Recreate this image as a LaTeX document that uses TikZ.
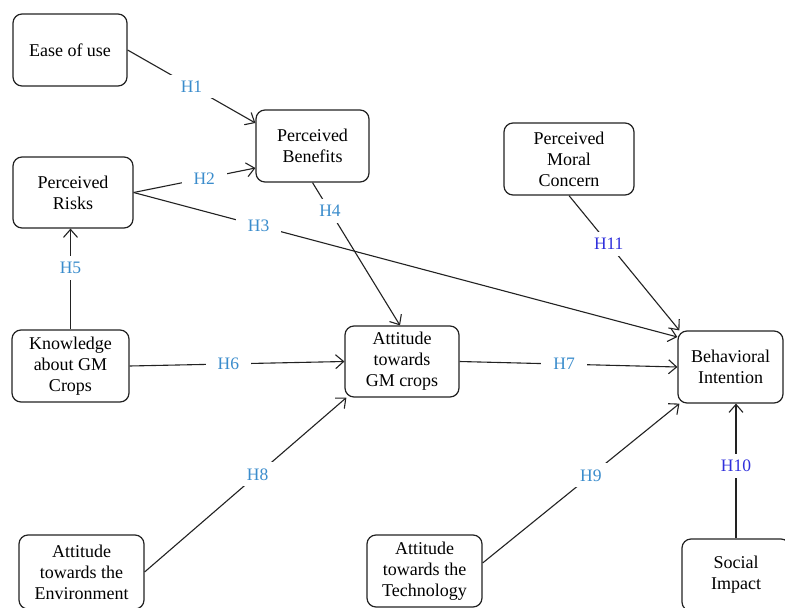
\documentclass[tikz,border=0pt]{standalone}
\usepackage{fontspec}
\setmainfont{Liberation Serif}
\usetikzlibrary{arrows.meta}
\definecolor{hlab}{HTML}{3A8CCC}
\definecolor{hlabb}{HTML}{3030DC}
\definecolor{ln}{HTML}{222222}
\begin{document}
\begin{tikzpicture}[x=1pt,y=-1pt,
  box/.style={draw=ln,line width=1.2pt,rounded corners=9pt,align=center,inner sep=0pt,
    font=\fontsize{18}{21}\selectfont,text=black},
  conn/.style={draw=ln,line width=1.1pt,-{Straight Barb[length=8pt,width=14pt,line width=1.1pt]}},
  hl/.style={fill=white,text=hlab,inner xsep=12pt,inner ysep=6pt,font=\fontsize{17.5}{20}\selectfont},
  hlb/.style={hl,text=hlabb}]
\useasboundingbox (0,0) rectangle (785,608);
\fill[white] (0,0) rectangle (785,608);
% nodes
\node[box,minimum width=114pt,minimum height=72pt] (ease) at (70,50) {Ease of use};
\node[box,minimum width=113pt,minimum height=72pt] (benef) at (312.5,146) {Perceived\\Benefits};
\node[box,minimum width=120pt,minimum height=71pt] (risks) at (73,192.5) {Perceived\\Risks};
\node[box,minimum width=130pt,minimum height=72pt] (moral) at (569,159) {Perceived\\Moral\\Concern};
\node[box,minimum width=117pt,minimum height=72pt] (know) at (70.5,366) {Knowledge\\about GM\\Crops};
\node[box,minimum width=114pt,minimum height=71pt] (attgm) at (402,361.5) {Attitude\\towards\\GM crops};
\node[box,minimum width=105pt,minimum height=72pt] (bi) at (730.5,367) {Behavioral\\Intention};
\node[box,minimum width=125pt,minimum height=74pt] (env) at (81.5,572) {Attitude\\towards the\\Environment};
\node[box,minimum width=115pt,minimum height=72pt] (tech) at (424.5,571) {Attitude\\towards the\\Technology};
\node[box,minimum width=108pt,minimum height=72pt] (si) at (736,575) {Social\\Impact};
% connectors
\draw[conn] (ease.east) -- node[hl,pos=0.5]{H1} ([yshift=23pt]benef.west);
\draw[conn] (risks.east) -- node[hl,pos=0.58]{H2} ([yshift=-22pt]benef.west);
\draw[conn] (risks.east) -- node[hl,pos=0.23]{H3} ([yshift=30pt]bi.west);
\draw[conn] (benef.south) -- node[hl,pos=0.2]{H4} ([xshift=-2pt]attgm.north);
\draw[conn] (know.north) -- node[hl,pos=0.61]{H5} (know.north |- risks.south);
\draw[conn] (know.east) -- node[hl,pos=0.46]{H6} (attgm.west);
\draw[conn] (attgm.east) -- node[hl,pos=0.48]{H7} (bi.west);
\draw[conn] (env.east) -- node[hl,pos=0.56]{H8} ([xshift=2pt]attgm.south west);
\draw[conn] ([yshift=8pt]tech.east) -- node[hl,pos=0.55]{H9} ([xshift=2pt]bi.south west);
\draw[conn] (si.north) -- node[hlb,pos=0.54]{H10} (si.north |- bi.south);
\draw[conn] (moral.south) -- node[hlb,pos=0.36]{H11} ([xshift=2pt]bi.north west);
\end{tikzpicture}
\end{document}
